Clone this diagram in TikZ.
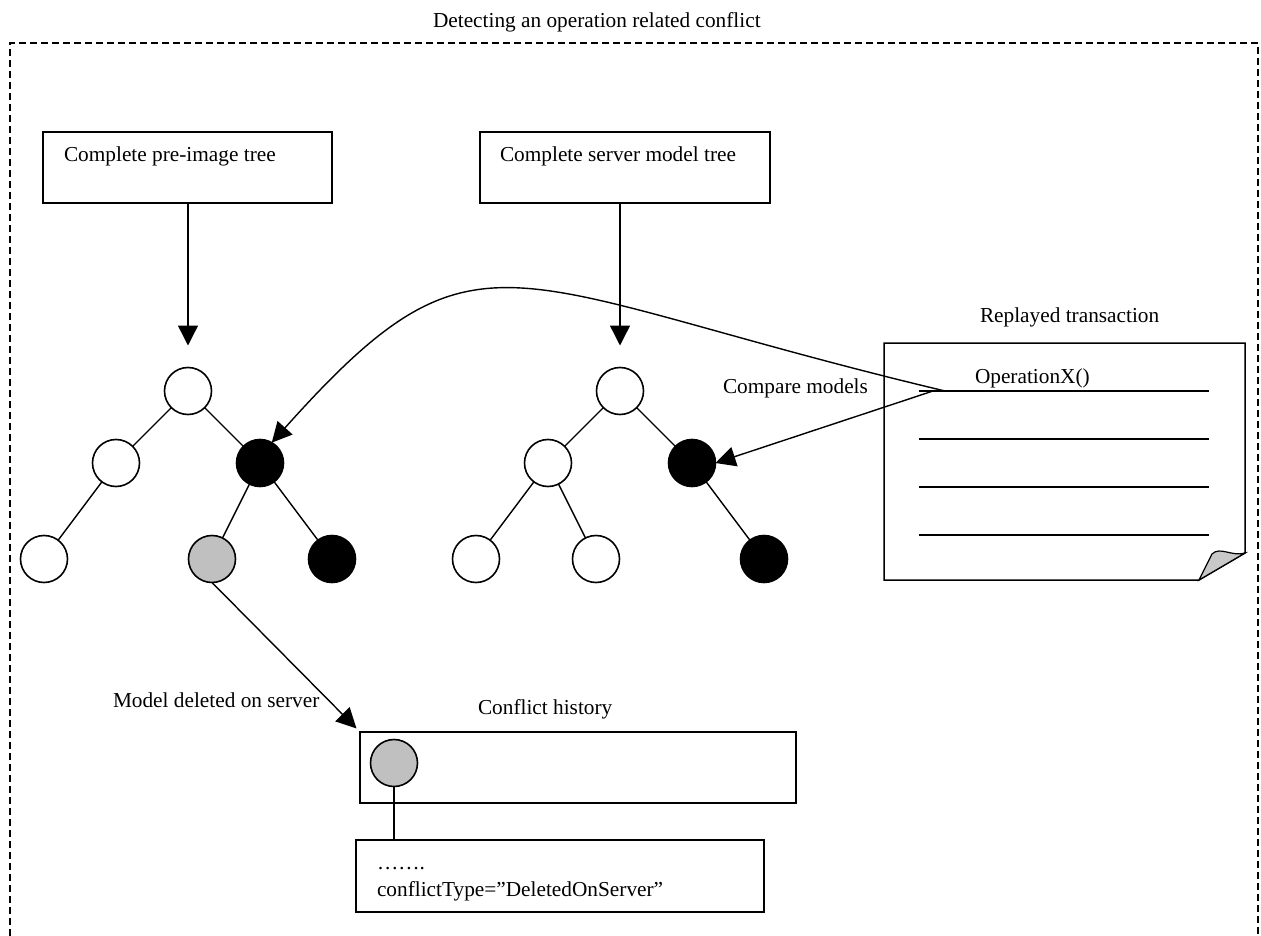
\documentclass[tikz,border=0pt]{standalone}
\usepackage{fontspec}
\setmainfont{Liberation Serif}
\usetikzlibrary{arrows.meta}
\definecolor{nodegray}{RGB}{192,192,192}
\definecolor{foldgray}{RGB}{200,200,200}
\begin{document}
\begin{tikzpicture}[x=1pt,y=-1pt,
  every node/.style={font=\fontsize{21.3}{25}\selectfont, inner sep=0pt, outer sep=0pt},
  lbl/.style={anchor=base west},
  box/.style={draw, line width=1.5pt, anchor=north west},
  tnode/.style={draw, circle, line width=1.6pt, minimum size=47pt, fill=white},
  blk/.style={tnode, fill=black},
  gry/.style={tnode, fill=nodegray},
  edge/.style={line width=1.4pt},
  arr/.style={line width=1.4pt, -{Triangle[length=20pt,width=20pt]}},
  frame/.style={line width=1.6pt, dash pattern=on 7pt off 4pt}
]
\useasboundingbox (0,0) rectangle (1261,936);

% outer dashed frame and its title
\draw[frame] (10,936) -- (10,43) -- (1258,43) -- (1258,936);
\node[lbl] (title) at (433,28) {Detecting an operation related conflict};

% source boxes
\node[box, minimum width=289pt, minimum height=71pt] (pre) at (43,132) {};
\node[lbl] (preT) at (64,162) {Complete pre-image tree};
\node[box, minimum width=290pt, minimum height=71pt] (srv) at (480,132) {};
\node[lbl] (srvT) at (500,162) {Complete server model tree};

% pre-image tree
\node[tnode] (a0) at (188,391) {};
\node[tnode] (a1) at (116,463) {};
\node[blk]   (a2) at (260,463) {};
\node[tnode] (a3) at (44,559) {};
\node[gry]   (a4) at (212,559) {};
\node[blk]   (a5) at (332,559) {};
\draw[edge] (a0) -- (a1) (a0) -- (a2) (a1) -- (a3) (a2) -- (a4) (a2) -- (a5);

% server model tree
\node[tnode] (b0) at (620,391) {};
\node[tnode] (b1) at (548,463) {};
\node[blk]   (b2) at (692,463) {};
\node[tnode] (b3) at (476,559) {};
\node[tnode] (b4) at (596,559) {};
\node[blk]   (b5) at (764,559) {};
\draw[edge] (b0) -- (b1) (b0) -- (b2) (b1) -- (b3) (b1) -- (b4) (b2) -- (b5);

% trees built from the boxes
\draw[arr, shorten >=22pt] (pre.south -| a0) -- (a0.north);
\draw[arr, shorten >=22pt] (srv.south -| b0) -- (b0.north);

% replayed transaction document with folded corner
\draw[line width=1.5pt, fill=white] (884,343) -- (1245,343) -- (1245,553)
  -- (1199,580) -- (884,580) -- cycle;
\draw[line width=1.2pt, fill=foldgray] (1199,580) -- (1212,554)
  .. controls (1220,546) and (1232,557) .. (1245,553) -- cycle;
\node[lbl] (docT) at (980,322) {Replayed transaction};
\node[lbl] (opT) at (975,383) {OperationX()};
\foreach \yy in {391,439,487,535}
  \draw[edge] (919,\yy) -- (1209,\yy);
\coordinate (opA) at (945,391);
\coordinate (opB) at (933,391);

% comparison arrows
\draw[arr] (opA) .. controls (500,285) and (480,210) .. (a2.60);
\draw[arr] (opB) -- (b2.east);
\node[lbl] (cmpT) at (723,393) {Compare models};

% conflict history
\node[lbl] (delT) at (113,707) {Model deleted on server};
\node[lbl] (histT) at (478,714) {Conflict history};
\node[box, minimum width=436pt, minimum height=71pt] (hist) at (360,732) {};
\node[gry] (hc) at (394,763) {};
\node[box, minimum width=408pt, minimum height=72pt] (detail) at (356,840) {};
\node[lbl] (dots) at (377,869) {…….};
\node[lbl] (ctype) at (377,896) {conflictType=”DeletedOnServer”};
\draw[edge] (hc.south) -- (hc.south |- detail.north);
\draw[arr, shorten >=5pt] (a4.south) -- (hist.north west);
\end{tikzpicture}
\end{document}
